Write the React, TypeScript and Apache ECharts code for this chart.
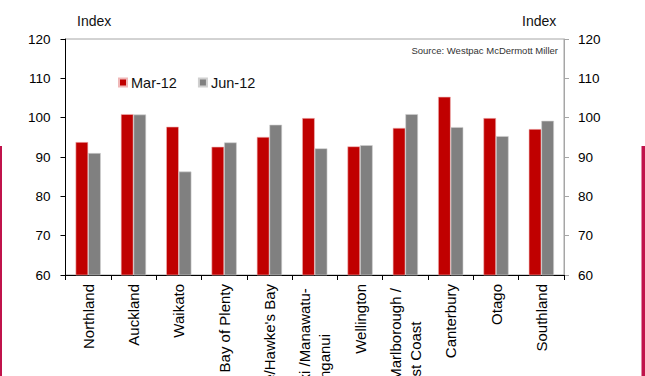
import React, { useEffect, useRef } from "react";
import * as echarts from "echarts";

const categories = [
  "Northland",
  "Auckland",
  "Waikato",
  "Bay of Plenty",
  "Gisborne/Hawke's Bay",
  "Taranaki /Manawatu-Wanganui",
  "Wellington",
  "Marlborough / West Coast",
  "Canterbury",
  "Otago",
  "Southland",
];
const mar12 = [93.8, 100.9, 97.7, 92.6, 95.1, 99.9, 92.7, 97.4, 105.3, 99.9, 97.1];
const jun12 = [91.0, 100.8, 86.3, 93.7, 98.2, 92.2, 93.0, 100.9, 97.6, 95.3, 99.2];
const seriesNames = ["Mar-12", "Jun-12"];
const yMin = 60;
const yMax = 120;
const yStep = 10;

const NB = "\u00a0";
const labelLines: Record<string, string> = {
  "Taranaki /Manawatu-Wanganui": "Taranaki /Manawatu-" + NB + "\nWanganui" + NB.repeat(12),
  "Marlborough / West Coast": "Marlborough /" + NB + "\nWest Coast" + NB.repeat(9),
};

export default function App() {
  const ref = useRef<HTMLDivElement>(null);
  useEffect(() => {
    document.body.style.margin = "0";
    const chart = echarts.init(ref.current!, undefined, { renderer: "svg" });
    const font = "Liberation Sans, Arial, sans-serif";
    chart.setOption({
      animation: false,
      textStyle: { fontFamily: font },
      grid: {
        left: 65.5,
        right: 81,
        top: 39,
        bottom: 101,
        containLabel: false,
        outerBoundsMode: "none",
        show: true,
        borderColor: "#a6a6a6",
        borderWidth: 1,
      },
      legend: {
        left: 113,
        top: 70,
        itemWidth: 8,
        itemHeight: 8,
        itemGap: 21,
        icon: "rect",
        textStyle: { fontSize: 14.5, color: "#111", padding: [0, 0, 0, -1] },
        data: seriesNames,
      },
      xAxis: {
        type: "category",
        data: categories,
        boundaryGap: true,
        axisLine: { lineStyle: { color: "#000", width: 1 } },
        axisTick: { show: true, length: 5, lineStyle: { color: "#000" } },
        axisLabel: {
          interval: 0,
          rotate: 90,
          margin: 9,
          fontSize: 15,
          color: "#000",
          lineHeight: 20,
          hideOverlap: false,
          formatter: (v: string) => labelLines[v] ?? v,
        },
      },
      yAxis: [
        {
          type: "value",
          min: yMin,
          max: yMax,
          interval: yStep,
          position: "left",
          axisLine: { show: true, lineStyle: { color: "#000" } },
          axisTick: { show: true, length: 5, lineStyle: { color: "#000" } },
          axisLabel: { margin: 15, fontSize: 13.5, color: "#000" },
          splitLine: { show: false },
        },
        {
          type: "value",
          min: yMin,
          max: yMax,
          interval: yStep,
          position: "right",
          axisLine: { show: true, lineStyle: { color: "#a6a6a6" } },
          axisTick: { show: true, length: 5, lineStyle: { color: "#a6a6a6" } },
          axisLabel: { margin: 14, fontSize: 13.5, color: "#000" },
          splitLine: { show: false },
        },
      ],
      series: [
        {
          name: seriesNames[0],
          type: "bar",
          data: mar12,
          barWidth: 12.6,
          barGap: "0%",
          itemStyle: { color: "#c00000", borderColor: "#f0b8b8", borderWidth: 0.6 },
        },
        {
          name: seriesNames[1],
          type: "bar",
          data: jun12,
          barWidth: 12.6,
          barGap: "0%",
          itemStyle: { color: "#808080", borderColor: "#d0d0d0", borderWidth: 0.6 },
        },
      ],
      graphic: [
        {
          type: "text",
          left: 77,
          top: 14,
          style: { text: "Index", fontSize: 14, fill: "#111", fontFamily: font },
        },
        {
          type: "text",
          left: 522,
          top: 14,
          style: { text: "Index", fontSize: 14, fill: "#111", fontFamily: font },
        },
        {
          type: "text",
          right: 87,
          top: 45,
          style: {
            text: "Source: Westpac McDermott Miller",
            fontSize: 9.5,
            fill: "#333",
            fontFamily: font,
          },
        },
        {
          type: "rect",
          shape: { x: 0, y: 146, width: 2, height: 230 },
          style: { fill: "#c0134b" },
        },
        {
          type: "rect",
          shape: { x: 641.5, y: 146, width: 4, height: 230 },
          style: { fill: "#c0134b" },
        },
      ],
    });
    return () => chart.dispose();
  }, []);
  return (
    <div
      ref={ref}
      style={{ position: "absolute", left: 0, top: 0, width: 645, height: 376 }}
    />
  );
}
